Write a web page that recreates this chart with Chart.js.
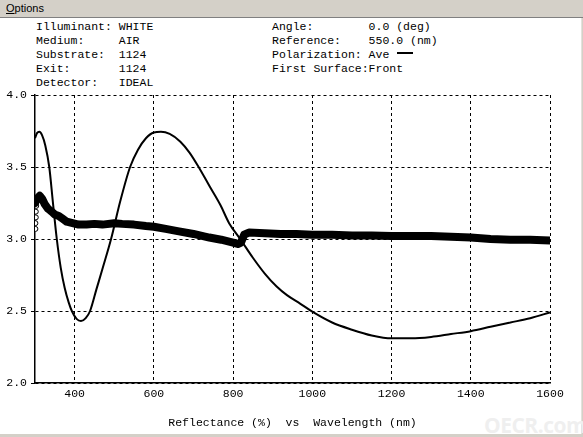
<!DOCTYPE html>
<html>
<head>
<meta charset="utf-8">
<script src="https://cdn.jsdelivr.net/npm/chart.js@4"></script>
<style>
    html, body { margin: 0; padding: 0; }
    body { width: 583px; height: 437px; background: #d4d0c8; position: relative; overflow: hidden; }
    #menu { position: absolute; left: 0; top: 0; width: 583px; height: 17px; background: #d4d0c8;
            border-bottom: 1px solid #808080; font: 11px "Liberation Sans", sans-serif; }
    #menu span { position: absolute; left: 6px; top: 2px; }
    #panel { position: absolute; left: 0; top: 18px; width: 581px; height: 416px; background: #fff;
             border-right: 1px solid #e4e2dc; }
    .info { position: absolute; margin: 0; font: 11.5px "Liberation Mono", monospace; line-height: 14px;
            color: #000; white-space: pre; }
    #legendLine { display: inline-block; width: 16px; height: 0; border-top: 2px solid #000;
                  vertical-align: middle; margin-left: 8px; position: relative; top: -1px; }
    #mark { position: absolute; left: 484px; top: 411px; font: bold 21px "Open Sans", sans-serif;
            color: #efefef; letter-spacing: -0.5px; }
    #chart { position: absolute; left: 0; top: 0; }
</style>
</head>
<body>
<div id="menu"><span><u>O</u>ptions</span></div>
<div id="panel"></div>
<pre class="info" style="left:36px; top:19.5px;">Illuminant: WHITE
Medium:     AIR
Substrate:  1124
Exit:       1124
Detector:   IDEAL</pre>
<pre class="info" style="left:272px; top:19.5px;">Angle:        0.0 (deg)
Reference:    550.0 (nm)
Polarization: Ave<span id="legendLine"></span>
First Surface:Front</pre>
<div id="mark">OECR.com</div>
<canvas id="chart" width="583" height="437"></canvas>
<script>
// reflectance (%) vs wavelength (nm)
const xTicks = [400, 600, 800, 1000, 1200, 1400, 1600];
const yTicks = [2.0, 2.5, 3.0, 3.5, 4.0];

// calculated curve (thin line)
const calcWl = [300, 305, 311, 318, 326, 336, 345, 355, 365, 375, 385, 393, 405, 416, 428, 439, 455, 470, 492,
    515, 540, 560, 580, 600, 618, 640, 667, 690, 713, 740, 768, 790, 818, 850, 880, 910, 936, 970, 1000,
    1050, 1100, 1150, 1200, 1250, 1300, 1350, 1400, 1450, 1500, 1550, 1600];
const calcVal = [3.70, 3.735, 3.745, 3.72, 3.65, 3.50, 3.26, 3.00, 2.80, 2.66, 2.56, 2.50, 2.445, 2.43, 2.45, 2.50, 2.65, 2.79, 3.00,
    3.26, 3.50, 3.62, 3.70, 3.74, 3.745, 3.73, 3.676, 3.60, 3.50, 3.37, 3.236, 3.11, 3.00, 2.87, 2.76, 2.67, 2.61, 2.55, 2.495,
    2.42, 2.37, 2.33, 2.31, 2.31, 2.32, 2.34, 2.36, 2.39, 2.42, 2.45, 2.49];

// measured curve (thick band)
const measWl = [300, 305, 312, 318, 325, 333, 342, 350, 360, 370, 380, 395, 410, 430, 450, 470, 500, 520, 550,
    580, 600, 630, 660, 700, 740, 770, 800, 812, 820, 828, 840, 880, 920, 960, 1000, 1050, 1100, 1150, 1200,
    1250, 1300, 1350, 1400, 1450, 1500, 1550, 1600];
const measVal = [3.25, 3.28, 3.30, 3.28, 3.24, 3.21, 3.19, 3.17, 3.16, 3.14, 3.12, 3.11, 3.10, 3.10, 3.105, 3.10, 3.11, 3.105, 3.10,
    3.09, 3.085, 3.07, 3.055, 3.035, 3.01, 2.995, 2.975, 2.965, 2.975, 3.03, 3.045, 3.04, 3.035, 3.035, 3.03, 3.03, 3.025, 3.025, 3.02,
    3.02, 3.02, 3.015, 3.01, 3.00, 2.995, 2.995, 2.99];

// scattered open circles at the short-wavelength edge
const scatWl = [301, 301, 302, 302, 303, 303];
const scatVal = [3.07, 3.11, 3.15, 3.19, 3.23, 3.27];

const monoFont = { family: 'Liberation Mono', size: 11.5 };

function pairs(xs, ys) {
    return xs.map((x, i) => ({ x: x, y: ys[i] }));
}

new Chart(document.getElementById('chart').getContext('2d'), {
    type: 'line',
    data: {
        datasets: [{
            data: pairs(calcWl, calcVal),
            borderColor: '#000',
            borderWidth: 2,
            pointRadius: 0,
            cubicInterpolationMode: 'monotone'
        }, {
            data: pairs(measWl, measVal),
            borderColor: '#000',
            borderWidth: 8,
            pointRadius: 0,
            borderJoinStyle: 'round',
            borderCapStyle: 'round'
        }, {
            data: pairs(scatWl, scatVal),
            showLine: false,
            pointRadius: 2.5,
            pointBorderWidth: 1,
            pointBorderColor: '#000',
            pointBackgroundColor: '#fff'
        }]
    },
    options: {
        responsive: false,
        animation: false,
        devicePixelRatio: 1,
        layout: { padding: { top: 95, right: 33, left: 0, bottom: 0 } },
        plugins: { legend: { display: false }, tooltip: { enabled: false } },
        scales: {
            x: {
                type: 'linear',
                min: 300,
                max: 1600,
                afterBuildTicks: s => { s.ticks = xTicks.map(v => ({ value: v })); },
                afterFit: s => { s.height = 54; },
                ticks: { color: '#000', font: monoFont, padding: 4, maxRotation: 0, callback: v => String(v) },
                grid: { color: '#000', tickLength: 4, drawTicks: false },
                border: { color: '#000', width: 1.5, dash: [3, 3] },
                title: {
                    display: true,
                    text: 'Reflectance (%)  vs  Wavelength (nm)',
                    color: '#000',
                    font: monoFont,
                    padding: { top: 0, bottom: 7 }
                }
            },
            y: {
                min: 2,
                max: 4,
                afterBuildTicks: s => { s.ticks = yTicks.map(v => ({ value: v })); },
                afterFit: s => { s.width = 35; },
                ticks: { color: '#000', font: monoFont, padding: 4, callback: v => v.toFixed(1) },
                grid: { color: '#000', tickLength: 4 },
                border: { color: '#000', width: 1.5, dash: [3, 3] }
            }
        }
    }
});
</script>
</body>
</html>
